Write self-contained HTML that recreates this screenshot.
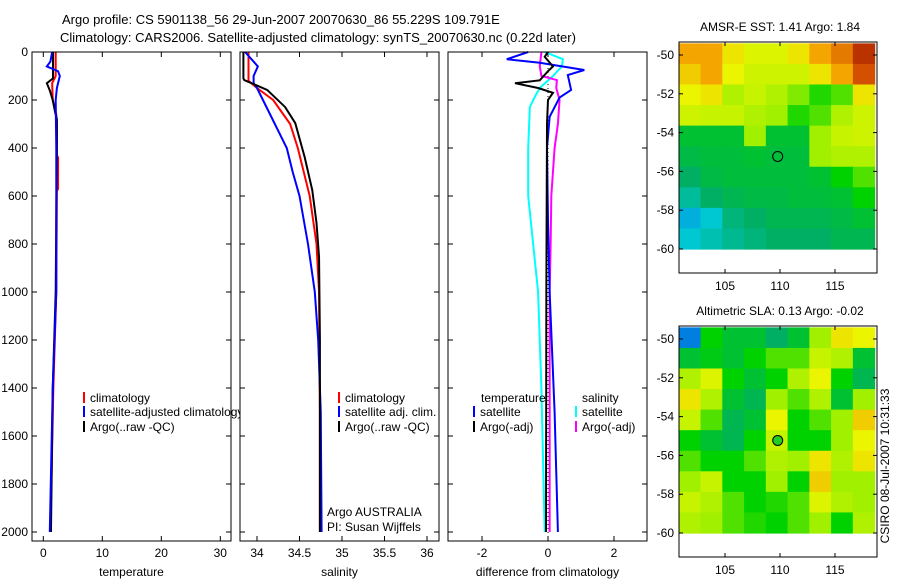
<!DOCTYPE html>
<html><head><meta charset="utf-8"><style>
body{margin:0;background:#fff;width:900px;height:580px;overflow:hidden}
svg text{font-family:"Liberation Sans",sans-serif;font-size:12px;fill:#000}
</style></head><body>
<svg id="fig" width="900" height="580" xmlns="http://www.w3.org/2000/svg">
<text x="62" y="24" style="font-size:13px">Argo profile: CS 5901138_56 29-Jun-2007 20070630_86 55.229S 109.791E</text>
<text x="60" y="42" style="font-size:13px">Climatology: CARS2006. Satellite-adjusted climatology: synTS_20070630.nc (0.22d later)</text>
</svg>
<script>
// ---- temperature panel data ----
const tClimDepth=[0,100,130,200,260,300,430,440,570,580,1000,1400,2000];
const tClimVal=[2.1,2.1,1.5,1.6,2.2,2.3,2.3,2.5,2.5,2.3,2.2,1.7,1.2];
const tSatDepth=[0,40,60,80,100,150,200,400,1000,1400,2000];
const tSatVal=[1.5,1.2,0.6,2.5,2.8,2.3,2.1,2.2,2.2,1.6,1.1];
const tArgoDepth=[0,110,130,160,200,250,280,400,1000,1400,2000];
const tArgoVal=[1.65,1.65,0.6,1.1,1.6,2.0,2.3,2.3,2.1,1.6,1.3];
// ---- salinity panel data ----
const sClimDepth=[0,120,150,200,300,400,600,800,1000,1500,2000];
const sClimVal=[33.9,33.9,34.0,34.19,34.39,34.48,34.62,34.7,34.73,34.74,34.74];
const sSatDepth=[0,60,100,130,150,200,300,400,500,600,800,1000,1200,1500,2000];
const sSatVal=[33.86,34.01,33.96,33.96,34.0,34.07,34.21,34.35,34.42,34.5,34.6,34.68,34.72,34.75,34.76];
const sArgoDepth=[0,110,117,158,229,296,437,575,712,854,1200,2000];
const sArgoVal=[33.84,33.84,33.85,34.12,34.33,34.45,34.56,34.65,34.7,34.73,34.74,34.74];
// ---- difference panel data ----
const dTSatDepth=[0,30,45,75,96,158,190,270,400,700,1000,1500,2000];
const dTSatVal=[-0.6,-1.25,-0.25,1.1,0.6,0.7,0.35,0.05,-0.03,0,0.05,0.2,0.3];
const dTArgoDepth=[0,20,60,80,118,130,150,170,200,300,1000,2000];
const dTArgoVal=[0,-0.1,0.15,0,-0.25,-1.0,-0.3,0.15,0,-0.03,-0.05,-0.06];
const dSSatDepth=[0,30,60,100,150,187,229,400,600,800,1000,1400,2000];
const dSSatVal=[-0.1,0.45,0.42,0.15,-0.25,-0.4,-0.55,-0.6,-0.6,-0.45,-0.3,-0.2,-0.1];
const dSArgoDepth=[0,60,100,117,150,200,300,400,600,800,1000,2000];
const dSArgoVal=[-0.2,-0.25,-0.2,0.27,0.25,0.35,0.3,0.2,0.1,0.08,0.05,0.05];
// ---- maps ----
const sstGrid=[
[0.8,0.8,0.72,0.68,0.68,0.72,0.8,0.85,0.95],
[0.75,0.8,0.7,0.66,0.66,0.66,0.72,0.8,0.9],
[0.7,0.72,0.62,0.65,0.62,0.58,0.52,0.55,0.72],
[0.66,0.65,0.65,0.62,0.6,0.52,0.55,0.62,0.66],
[0.45,0.45,0.45,0.6,0.45,0.45,0.6,0.65,0.66],
[0.43,0.44,0.44,0.45,0.44,0.44,0.6,0.62,0.62],
[0.4,0.43,0.44,0.44,0.44,0.44,0.45,0.5,0.55],
[0.35,0.4,0.42,0.43,0.43,0.44,0.44,0.45,0.5],
[0.25,0.3,0.38,0.4,0.42,0.42,0.42,0.43,0.45],
[0.3,0.33,0.36,0.38,0.4,0.4,0.4,0.42,0.42]];
const slaGrid=[
[0.15,0.5,0.45,0.45,0.4,0.45,0.6,0.72,0.7],
[0.45,0.48,0.45,0.5,0.55,0.55,0.65,0.62,0.45],
[0.62,0.68,0.5,0.45,0.5,0.62,0.7,0.5,0.42],
[0.72,0.62,0.45,0.42,0.6,0.55,0.62,0.45,0.6],
[0.65,0.55,0.42,0.45,0.7,0.5,0.55,0.6,0.75],
[0.5,0.45,0.42,0.5,0.65,0.5,0.5,0.6,0.7],
[0.55,0.5,0.5,0.55,0.62,0.6,0.72,0.62,0.72],
[0.6,0.65,0.5,0.5,0.6,0.5,0.75,0.6,0.6],
[0.65,0.62,0.55,0.5,0.52,0.55,0.68,0.62,0.6],
[0.62,0.6,0.55,0.52,0.5,0.55,0.6,0.5,0.62]];
const floatLon=109.791, floatLat=-55.229;

const svg=document.getElementById('fig');
const NS='http://www.w3.org/2000/svg';
function mk(tag,attrs,parent){const e=document.createElementNS(NS,tag);for(const k in attrs)e.setAttribute(k,attrs[k]);(parent||svg).appendChild(e);return e;}
function txt(s,x,y,anchor,parent){const t=mk('text',{x:x,y:y,'text-anchor':anchor||'start'},parent);t.textContent=s;return t;}

const Y0=52, Y1=541;
const yDepth=d=>52+d*0.24;
function panel(name,x0,x1,xs,xticks,xlab,ylabels){
  const g=mk('g',{});
  
  
  const bg=mk('rect',{x:x0,y:Y0,width:x1-x0,height:Y1-Y0,fill:'#fff'},g);
  for(const t of xticks){const x=xs(t);
    mk('line',{x1:x,x2:x,y1:Y0,y2:Y0+5,stroke:'#000'},g);
    mk('line',{x1:x,x2:x,y1:Y1,y2:Y1-5,stroke:'#000'},g);
    const l=txt(String(t),x,557,'middle',g);
    
    }
  for(let d=0;d<=2000;d+=200){const y=yDepth(d);
    mk('line',{x1:x0,x2:x0+5,y1:y,y2:y,stroke:'#000'},g);
    mk('line',{x1:x1,x2:x1-5,y1:y,y2:y,stroke:'#000'},g);
    if(ylabels){const l=txt(String(d),28,y+4,'end',g);
      
      }}
  const at=txt(xlab,(x0+x1)/2,576,'middle',g);
  
  
  return g;
}
function series(g,name,depths,vals,xs,color,w,x0,x1){
  const pts=depths.map((d,i)=>Math.max(x0,Math.min(x1,xs(vals[i])))+','+yDepth(d)).join(' ');
  const p=mk('polyline',{points:pts,fill:'none',stroke:color,'stroke-width':w||2},g);
  
  
}
function frame(g,x0,x1){mk('rect',{x:x0,y:Y0,width:x1-x0,height:Y1-Y0,fill:'none',stroke:'#000'},g);}
function legendEntry(g,name,x,y,color,label){
  const m=mk('line',{x1:x,x2:x,y1:y-10,y2:y+1,stroke:color,'stroke-width':2},g);
  const t=txt(label,x+6,y,'start',g);
  
  
}

// Panel 1 temperature
const xT=t=>43.3+t*5.9;
const g1=panel('temperature-panel',32,231,xT,[0,10,20,30],'temperature',true);
series(g1,'temp-climatology-line',tClimDepth,tClimVal,xT,'#f00',2,32,231);
series(g1,'temp-argo-line',tArgoDepth,tArgoVal,xT,'#000',2,32,231);
series(g1,'temp-satellite-line',tSatDepth,tSatVal,xT,'#00f',2,32,231);
legendEntry(g1,'legend-climatology',84,402,'#f00','climatology');
legendEntry(g1,'legend-satellite-adjusted',84,416,'#00f','satellite-adjusted climatology');
legendEntry(g1,'legend-argo',84,431,'#000','Argo(..raw -QC)');
frame(g1,32,231);

// Panel 2 salinity
const xS=s=>257+(s-34)*85;
const g2=panel('salinity-panel',240,439,xS,[34,34.5,35,35.5,36],'salinity',false);
series(g2,'sal-climatology-line',sClimDepth,sClimVal,xS,'#f00',2,240,439);
series(g2,'sal-satellite-line',sSatDepth,sSatVal,xS,'#00f',2,240,439);
series(g2,'sal-argo-line',sArgoDepth,sArgoVal,xS,'#000',2,240,439);
legendEntry(g2,'legend-climatology-2',339,402,'#f00','climatology');
legendEntry(g2,'legend-satellite-adj',339,416,'#00f','satellite adj. clim.');
legendEntry(g2,'legend-argo-2',339,431,'#000','Argo(..raw -QC)');
const a1=txt('Argo AUSTRALIA',327,516,'start',g2);


const a2=txt('PI: Susan Wijffels',327,531,'start',g2);


frame(g2,240,439);

// Panel 3 difference
const xD=v=>548+v*33;
const g3=panel('difference-panel',448,647,xD,[-2,0,2],'difference from climatology',false);
const zl=mk('line',{x1:xD(0),x2:xD(0),y1:Y0,y2:Y1,stroke:'#000','stroke-dasharray':'1,3'},g3);


series(g3,'diff-sal-satellite-line',dSSatDepth,dSSatVal,xD,'#0ff',2,448,647);
series(g3,'diff-sal-argo-line',dSArgoDepth,dSArgoVal,xD,'#f0f',2,448,647);
series(g3,'diff-temp-satellite-line',dTSatDepth,dTSatVal,xD,'#00f',2,448,647);
series(g3,'diff-temp-argo-line',dTArgoDepth,dTArgoVal,xD,'#000',2,448,647);
const lt=txt('temperature',481,402,'start',g3);


const ls=txt('salinity',582,402,'start',g3);


legendEntry(g3,'legend-temp-satellite',474,416,'#00f','satellite');
legendEntry(g3,'legend-temp-argo',474,431,'#000','Argo(-adj)');
legendEntry(g3,'legend-sal-satellite',576,416,'#0ff','satellite');
legendEntry(g3,'legend-sal-argo',576,431,'#f0f','Argo(-adj)');
frame(g3,448,647);

// Maps
const stops=[[0,[0,60,210]],[0.2,[0,150,230]],[0.3,[0,200,210]],[0.4,[0,175,100]],[0.5,[0,210,0]],[0.6,[160,240,0]],[0.7,[235,245,0]],[0.8,[245,165,0]],[0.9,[210,80,0]],[1,[160,20,0]]];
function cmap(v){for(let i=1;i<stops.length;i++){if(v<=stops[i][0]){const a=stops[i-1],b=stops[i],f=(v-a[0])/(b[0]-a[0]);const c=a[1].map((q,k)=>Math.round(q+(b[1][k]-q)*f));return 'rgb('+c.join(',')+')';}}return 'rgb(160,20,0)';}
function map(name,title,grid,yTop,yLat50,filledMarker){
  const g=mk('g',{});
  
  
  const bx0=679,bx1=877,bh=231;
  const xL=lon=>780+(lon-110)*11;
  const yL=lat=>yLat50+(-50-lat)*19.4;
  const lonMin=100.8,lonMax=118.6,latMax=-49.4,latMin=-60;
  const nr=grid.length,nc=grid[0].length;
  const dLon=(lonMax-lonMin)/nc,dLat=(latMax-latMin)/nr;
  grid.forEach((row,r)=>row.forEach((v,c)=>{
    const x=xL(lonMin+c*dLon),y=yL(latMax-r*dLat);
    const cell=mk('rect',{x:x,y:y,width:dLon*11+0.6,height:dLat*19.4+0.6,fill:cmap(v)},g);
    
    
  }));
  mk('rect',{x:bx0,y:yTop,width:bx1-bx0,height:bh,fill:'none',stroke:'#000'},g);
  for(const lat of [-50,-52,-54,-56,-58,-60]){const y=yL(lat);
    mk('line',{x1:bx0,x2:bx0+4,y1:y,y2:y,stroke:'#000'},g);
    mk('line',{x1:bx1,x2:bx1-4,y1:y,y2:y,stroke:'#000'},g);
    const l=txt(String(lat),674,y+4,'end',g);
    
    }
  for(const lon of [105,110,115]){const x=xL(lon);
    mk('line',{x1:x,x2:x,y1:yTop,y2:yTop+4,stroke:'#000'},g);
    mk('line',{x1:x,x2:x,y1:yTop+bh,y2:yTop+bh-4,stroke:'#000'},g);
    const l=txt(String(lon),x,yTop+bh+17,'middle',g);
    
    }
  const t=txt(title,780,yTop-11,'middle',g);
  
  
  const m=mk('circle',{cx:xL(floatLon),cy:yL(floatLat),r:5,fill:filledMarker?'#2c2':'none',stroke:'#000'},g);
  
  
}
map('sst-map','AMSR-E SST: 1.41 Argo: 1.84',sstGrid,42,55,false);
map('sla-map','Altimetric SLA: 0.13 Argo: -0.02',slaGrid,326,339,true);
const ts=txt('CSIRO 08-Jul-2007 10:31:33',0,0,'middle');
ts.setAttribute('transform','translate(889,466) rotate(-90)');


</script>
</body></html>
